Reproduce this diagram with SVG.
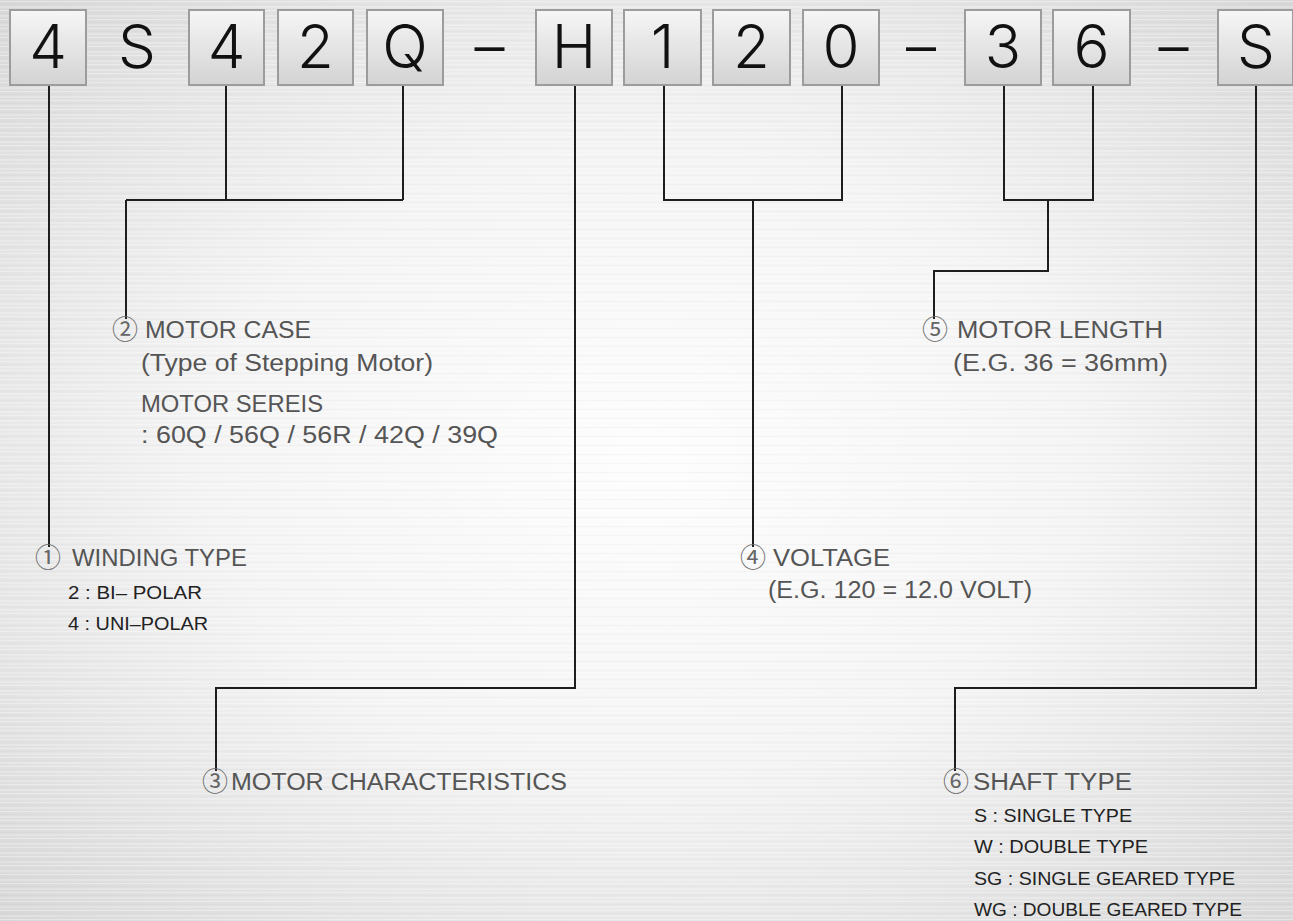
<svg xmlns="http://www.w3.org/2000/svg" width="1293" height="921" viewBox="0 0 1293 921">
<defs>
  <radialGradient id="bg" cx="0.5" cy="0.5" r="0.75">
    <stop offset="0" stop-color="#fdfdfd"/>
    <stop offset="0.45" stop-color="#f4f4f4"/>
    <stop offset="1" stop-color="#d4d4d4"/>
  </radialGradient>
  <pattern id="brush" width="1293" height="9" patternUnits="userSpaceOnUse">
    <rect x="0" y="1" width="1293" height="1" fill="#ffffff" opacity="0.35"/>
    <rect x="0" y="4" width="1293" height="1" fill="#bdbdbd" opacity="0.1"/>
    <rect x="0" y="6" width="1293" height="2" fill="#ffffff" opacity="0.2"/>
  </pattern>
  <linearGradient id="boxg" x1="0" y1="0" x2="0" y2="1">
    <stop offset="0" stop-color="#f6f6f6"/>
    <stop offset="1" stop-color="#d3d3d3"/>
  </linearGradient>
  <style>
    .box{fill:url(#boxg);stroke:#9c9c9c;stroke-width:2}
    .big{font-family:Inter,"Liberation Sans",Arial,sans-serif;font-weight:300;font-size:60px;fill:#111;text-anchor:middle}
    .conn{fill:none;stroke:#1e1e1e;stroke-width:2}
    .hd{font-family:"Liberation Sans",Arial,sans-serif;font-size:23px;fill:#555}
    .cn{font-family:"Noto Sans CJK KR","DejaVu Sans",sans-serif;font-size:26px;fill:#666;text-anchor:middle}
    .sm{font-family:"Liberation Sans",Arial,sans-serif;font-size:18px;fill:#222}
  </style>
</defs>
<rect width="1293" height="921" fill="url(#bg)"/>
<rect width="1293" height="921" fill="url(#brush)"/>

<g id="code">
  <g id="c1"><rect class="box" x="10" y="10" width="76" height="75"/><text class="big" x="48" y="68">4</text></g>
  <g id="c2"><text class="big" x="137" y="68">S</text></g>
  <g id="c3"><rect class="box" x="189" y="10" width="75" height="75"/><text class="big" x="226.5" y="68">4</text></g>
  <g id="c4"><rect class="box" x="278" y="10" width="75" height="75"/><text class="big" x="315.5" y="68">2</text></g>
  <g id="c5"><rect class="box" x="367" y="10" width="76" height="75"/><text class="big" x="405" y="68">Q</text></g>
  <g id="d1"><text class="big" x="489.5" y="68">–</text></g>
  <g id="c6"><rect class="box" x="536" y="10" width="76" height="75"/><text class="big" x="574" y="68">H</text></g>
  <g id="c7"><rect class="box" x="624" y="10" width="77" height="75"/><text class="big" x="662.5" y="68">1</text></g>
  <g id="c8"><rect class="box" x="713" y="10" width="77" height="75"/><text class="big" x="751.5" y="68">2</text></g>
  <g id="c9"><rect class="box" x="803" y="10" width="76" height="75"/><text class="big" x="841" y="68">0</text></g>
  <g id="d2"><text class="big" x="921" y="68">–</text></g>
  <g id="c10"><rect class="box" x="965" y="10" width="76" height="75"/><text class="big" x="1003" y="68">3</text></g>
  <g id="c11"><rect class="box" x="1053" y="10" width="77" height="75"/><text class="big" x="1091.5" y="68">6</text></g>
  <g id="d3"><text class="big" x="1173.5" y="68">–</text></g>
  <g id="c12"><rect class="box" x="1218" y="10" width="75" height="75"/><text class="big" x="1256" y="68">S</text></g>
</g>

<g id="connectors">
  <path class="conn" d="M49 86 V547"/>
  <path class="conn" d="M226 86 V200 M403 86 V200 M126 200 H403 M126 200 V319"/>
  <path class="conn" d="M575 86 V688 H216 V771"/>
  <path class="conn" d="M664 86 V200 H842 V86 M753 200 V547"/>
  <path class="conn" d="M1004 86 V200 H1093 V86 M1048 200 V271 H934 V319"/>
  <path class="conn" d="M1256 86 V688 H955 V771"/>
</g>

<g id="label1">
  <text class="cn" x="48" y="567">①</text>
  <text class="hd" x="72" y="566" textLength="175" lengthAdjust="spacingAndGlyphs">WINDING TYPE</text>
  <text class="sm" x="68" y="599" textLength="134" lengthAdjust="spacingAndGlyphs">2 : BI– POLAR</text>
  <text class="sm" x="68" y="630" textLength="140" lengthAdjust="spacingAndGlyphs">4 : UNI–POLAR</text>
</g>
<g id="label2">
  <text class="cn" x="125" y="339">②</text>
  <text class="hd" x="145" y="338" textLength="166" lengthAdjust="spacingAndGlyphs">MOTOR CASE</text>
  <text class="hd" x="141" y="371" textLength="292" lengthAdjust="spacingAndGlyphs">(Type of Stepping Motor)</text>
  <text class="hd" x="141" y="412" textLength="182" lengthAdjust="spacingAndGlyphs">MOTOR SEREIS</text>
  <text class="hd" x="141" y="443" textLength="357" lengthAdjust="spacingAndGlyphs">: 60Q / 56Q / 56R / 42Q / 39Q</text>
</g>
<g id="label3">
  <text class="cn" x="215" y="791">③</text>
  <text class="hd" x="231" y="790" textLength="336" lengthAdjust="spacingAndGlyphs">MOTOR CHARACTERISTICS</text>
</g>
<g id="label4">
  <text class="cn" x="753" y="567">④</text>
  <text class="hd" x="773" y="566" textLength="117" lengthAdjust="spacingAndGlyphs">VOLTAGE</text>
  <text class="hd" x="768" y="598" textLength="264" lengthAdjust="spacingAndGlyphs">(E.G. 120 = 12.0 VOLT)</text>
</g>
<g id="label5">
  <text class="cn" x="935" y="339">⑤</text>
  <text class="hd" x="957" y="338" textLength="206" lengthAdjust="spacingAndGlyphs">MOTOR LENGTH</text>
  <text class="hd" x="953" y="371" textLength="215" lengthAdjust="spacingAndGlyphs">(E.G. 36 = 36mm)</text>
</g>
<g id="label6">
  <text class="cn" x="956" y="791">⑥</text>
  <text class="hd" x="973" y="790" textLength="159" lengthAdjust="spacingAndGlyphs">SHAFT TYPE</text>
  <text class="sm" x="974" y="822" textLength="158" lengthAdjust="spacingAndGlyphs">S : SINGLE TYPE</text>
  <text class="sm" x="974" y="853" textLength="174" lengthAdjust="spacingAndGlyphs">W : DOUBLE TYPE</text>
  <text class="sm" x="974" y="885" textLength="261" lengthAdjust="spacingAndGlyphs">SG : SINGLE GEARED TYPE</text>
  <text class="sm" x="974" y="916" textLength="268" lengthAdjust="spacingAndGlyphs">WG : DOUBLE GEARED TYPE</text>
</g>
</svg>
